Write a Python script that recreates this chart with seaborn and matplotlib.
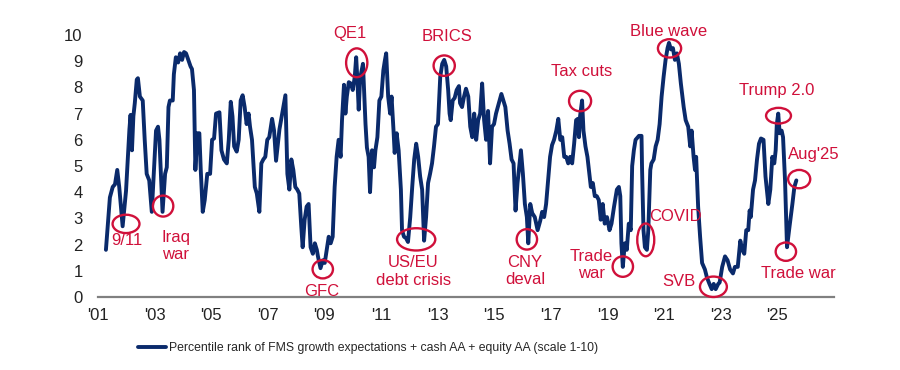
import numpy as np
import pandas as pd
import matplotlib
matplotlib.use('Agg')
import matplotlib.pyplot as plt
from matplotlib.patches import Ellipse
import seaborn as sns

# decimal year / score
years = [
    2001.28, 2001.42, 2001.52, 2001.60, 2001.68, 2001.75, 2001.87, 2001.99, 2002.11, 2002.15,
    2002.20, 2002.25, 2002.30, 2002.37, 2002.41, 2002.48, 2002.58, 2002.65, 2002.72, 2002.81,
    2002.90, 2002.99, 2003.05, 2003.12, 2003.17, 2003.23, 2003.28, 2003.37, 2003.43, 2003.49,
    2003.54, 2003.64, 2003.68, 2003.75, 2003.83, 2003.90, 2003.97, 2004.04, 2004.11, 2004.19,
    2004.27, 2004.32, 2004.39, 2004.44, 2004.51, 2004.58, 2004.63, 2004.70, 2004.77, 2004.86,
    2004.96, 2005.03, 2005.10, 2005.17, 2005.29, 2005.36, 2005.45, 2005.55, 2005.62, 2005.69,
    2005.75, 2005.81, 2005.90, 2005.97, 2006.04, 2006.11, 2006.18, 2006.25, 2006.32, 2006.37,
    2006.44, 2006.54, 2006.61, 2006.70, 2006.77, 2006.84, 2006.91, 2006.98, 2007.05, 2007.15,
    2007.22, 2007.29, 2007.41, 2007.53, 2007.62, 2007.69, 2007.76, 2007.83, 2007.90, 2007.97,
    2008.04, 2008.11, 2008.18, 2008.23, 2008.30, 2008.37, 2008.44, 2008.51, 2008.59, 2008.66,
    2008.73, 2008.77, 2008.86, 2008.94, 2009.01, 2009.08, 2009.15, 2009.22, 2009.29, 2009.36,
    2009.43, 2009.50, 2009.57, 2009.62, 2009.69, 2009.74, 2009.79, 2009.86, 2009.93, 2010.00,
    2010.07, 2010.12, 2010.16, 2010.21, 2010.26, 2010.36, 2010.45, 2010.50, 2010.56, 2010.61,
    2010.68, 2010.75, 2010.80, 2010.87, 2010.94, 2011.01, 2011.08, 2011.13, 2011.18, 2011.25,
    2011.32, 2011.37, 2011.44, 2011.48, 2011.55, 2011.62, 2011.70, 2011.74, 2011.81, 2011.88,
    2011.95, 2012.03, 2012.10, 2012.17, 2012.24, 2012.31, 2012.38, 2012.45, 2012.52, 2012.59,
    2012.66, 2012.73, 2012.80, 2012.87, 2012.94, 2013.01, 2013.09, 2013.16, 2013.23, 2013.30,
    2013.37, 2013.42, 2013.46, 2013.53, 2013.60, 2013.67, 2013.75, 2013.79, 2013.86, 2013.93,
    2014.00, 2014.08, 2014.15, 2014.22, 2014.29, 2014.36, 2014.43, 2014.50, 2014.57, 2014.64,
    2014.71, 2014.78, 2014.85, 2014.92, 2014.99, 2015.06, 2015.16, 2015.25, 2015.32, 2015.39,
    2015.47, 2015.54, 2015.61, 2015.68, 2015.75, 2015.82, 2015.89, 2015.94, 2016.01, 2016.08,
    2016.15, 2016.20, 2016.27, 2016.34, 2016.43, 2016.53, 2016.62, 2016.69, 2016.76, 2016.83,
    2016.90, 2016.97, 2017.04, 2017.11, 2017.19, 2017.26, 2017.33, 2017.40, 2017.47, 2017.54,
    2017.61, 2017.68, 2017.75, 2017.82, 2017.89, 2017.95, 2017.99, 2018.03, 2018.10, 2018.15,
    2018.22, 2018.29, 2018.36, 2018.41, 2018.48, 2018.55, 2018.62, 2018.69, 2018.76, 2018.83,
    2018.90, 2018.98, 2019.07, 2019.14, 2019.23, 2019.33, 2019.40, 2019.45, 2019.49, 2019.54,
    2019.61, 2019.68, 2019.75, 2019.82, 2019.87, 2019.93, 2019.99, 2020.11, 2020.20, 2020.22,
    2020.27, 2020.32, 2020.39, 2020.44, 2020.51, 2020.55, 2020.63, 2020.70, 2020.77, 2020.84,
    2020.91, 2020.98, 2021.05, 2021.12, 2021.17, 2021.24, 2021.31, 2021.38, 2021.45, 2021.52,
    2021.59, 2021.69, 2021.76, 2021.85, 2021.92, 2021.97, 2022.04, 2022.09, 2022.13, 2022.20,
    2022.27, 2022.34, 2022.44, 2022.51, 2022.60, 2022.68, 2022.75, 2022.82, 2022.91, 2022.96,
    2023.05, 2023.15, 2023.24, 2023.33, 2023.43, 2023.50, 2023.60, 2023.69, 2023.76, 2023.83,
    2023.90, 2023.97, 2024.02, 2024.06, 2024.14, 2024.21, 2024.28, 2024.35, 2024.42, 2024.51,
    2024.58, 2024.68, 2024.75, 2024.82, 2024.89, 2024.94, 2024.98, 2025.03, 2025.08, 2025.15,
    2025.20, 2025.27, 2025.34, 2025.43, 2025.53, 2025.60, 2025.67,
]
scores = [
    1.80, 3.80, 4.20, 4.30, 4.85, 4.20, 2.70, 4.05, 6.40, 6.95,
    5.60, 6.90, 7.40, 8.30, 8.35, 7.65, 7.50, 6.00, 4.70, 4.45,
    3.25, 5.10, 6.35, 6.50, 6.00, 4.45, 3.25, 4.70, 4.95, 7.25,
    7.50, 7.50, 8.50, 9.15, 8.95, 9.30, 9.05, 9.35, 9.30, 9.05,
    8.80, 8.70, 7.90, 4.85, 6.25, 6.25, 4.85, 3.25, 3.70, 4.70,
    4.70, 6.00, 6.05, 7.00, 7.05, 5.60, 5.25, 5.10, 6.00, 7.45,
    6.90, 5.75, 5.55, 6.00, 7.50, 7.70, 7.25, 6.60, 7.00, 6.50,
    6.00, 4.20, 3.95, 3.25, 5.10, 5.25, 5.35, 6.00, 6.10, 6.80,
    6.35, 5.20, 6.40, 7.15, 7.70, 4.70, 4.10, 5.25, 4.85, 4.20,
    4.10, 3.95, 2.70, 1.90, 2.95, 3.45, 3.55, 1.90, 1.65, 2.05,
    1.80, 1.55, 1.10, 1.40, 1.30, 1.80, 2.30, 2.05, 2.30, 4.20,
    5.35, 6.00, 5.35, 6.75, 8.10, 7.00, 7.65, 8.20, 8.15, 7.90,
    8.40, 9.15, 8.35, 7.15, 8.35, 8.90, 6.60, 5.70, 5.35, 4.00,
    5.60, 4.95, 5.60, 6.10, 7.50, 7.65, 8.65, 9.00, 9.30, 7.65,
    7.00, 7.65, 6.35, 5.50, 6.25, 5.60, 4.10, 2.55, 2.30, 2.25,
    2.10, 3.05, 4.20, 5.25, 5.85, 5.35, 4.60, 4.10, 2.15, 3.05,
    4.35, 4.70, 5.10, 5.75, 6.50, 6.60, 8.40, 8.90, 9.05, 8.80,
    7.90, 7.00, 6.75, 7.50, 7.60, 7.90, 8.05, 7.40, 7.25, 7.65,
    7.95, 7.65, 6.50, 6.10, 7.00, 6.00, 6.75, 7.00, 8.15, 6.75,
    6.00, 7.10, 5.10, 6.50, 6.60, 7.00, 7.40, 7.75, 7.50, 7.25,
    6.35, 5.85, 5.25, 5.10, 3.30, 4.35, 5.10, 5.60, 4.70, 3.55,
    3.05, 2.05, 3.55, 3.20, 3.05, 2.55, 2.90, 3.25, 3.05, 3.55,
    4.45, 5.35, 5.80, 6.00, 6.35, 6.80, 6.00, 6.10, 5.35, 5.35,
    5.10, 5.35, 5.10, 5.85, 6.75, 6.80, 6.10, 6.90, 7.50, 6.35,
    5.75, 5.35, 4.70, 4.20, 4.35, 3.85, 3.85, 3.70, 2.95, 3.55,
    2.80, 3.05, 2.55, 2.80, 3.45, 4.10, 4.20, 3.85, 2.05, 1.15,
    2.05, 1.80, 2.80, 2.55, 5.00, 5.60, 6.00, 6.15, 6.15, 4.85,
    2.55, 1.90, 1.80, 2.55, 4.85, 5.10, 5.25, 5.75, 6.00, 6.60,
    7.65, 8.40, 9.05, 9.50, 9.70, 9.45, 9.50, 9.05, 9.30, 8.90,
    8.15, 7.25, 6.75, 6.50, 5.75, 6.35, 5.35, 4.85, 5.35, 3.45,
    2.30, 1.30, 1.05, 0.75, 0.50, 0.30, 0.50, 0.30, 0.50, 0.55,
    1.15, 1.55, 1.40, 1.05, 0.90, 1.15, 1.15, 2.15, 1.80, 1.65,
    2.55, 2.55, 3.30, 3.05, 4.10, 4.45, 5.25, 5.85, 6.05, 6.00,
    4.60, 3.55, 4.10, 5.35, 5.10, 5.60, 6.60, 7.00, 6.25, 6.35,
    6.10, 4.45, 1.90, 2.70, 3.55, 4.20, 4.45,
]

tick_years = list(range(2001, 2026, 2))
tick_labels = ["'%02d" % (y % 100) for y in tick_years]

series_name = 'Percentile rank of FMS growth expectations + cash AA + equity AA (scale 1-10)'

# event labels: text, label position, circle centre, circle size (years, score units)
events = [
    ('9/11', 2002.02, 2.15, 2001.99, 2.79, 0.95, 0.70),
    ('Iraq\nwar', 2003.75, 1.95, 2003.30, 3.47, 0.72, 0.80),
    ('GFC', 2008.90, 0.20, 2008.94, 1.06, 0.72, 0.70),
    ('QE1', 2009.90, 10.05, 2010.14, 8.94, 0.75, 1.10),
    ('US/EU\ndebt crisis', 2012.14, 0.98, 2012.24, 2.20, 1.35, 0.85),
    ('BRICS', 2013.32, 9.95, 2013.23, 8.83, 0.75, 0.78),
    ('CNY\ndeval', 2016.09, 1.00, 2016.15, 2.20, 0.72, 0.78),
    ('Tax cuts', 2018.10, 8.60, 2018.03, 7.48, 0.78, 0.78),
    ('Trade\nwar', 2018.42, 1.22, 2019.54, 1.16, 0.72, 0.78),
    ('COVID', 2021.39, 3.07, 2020.35, 2.18, 0.60, 1.25),
    ('Blue wave', 2021.15, 10.15, 2021.19, 9.49, 0.82, 0.70),
    ('SVB', 2021.51, 0.58, 2022.74, 0.39, 0.95, 0.78),
    ('Trump 2.0', 2024.98, 7.90, 2025.04, 6.92, 0.88, 0.60),
    ("Aug'25", 2026.28, 5.45, 2025.77, 4.50, 0.78, 0.70),
    ('Trade war', 2025.74, 0.90, 2025.30, 1.73, 0.72, 0.70),
]

df = pd.DataFrame({'year': years, 'score': scores})

sns.set_theme(style='white')
plt.rcParams['font.family'] = ['Liberation Sans', 'DejaVu Sans']

navy = '#0A2A6B'
red = '#D0103A'

fig = plt.figure(figsize=(9, 3.7), dpi=100)
ax = fig.add_axes([98 / 900, 1 - 297 / 370, (834 - 98) / 900, (297 - 35) / 370])

sns.lineplot(data=df, x='year', y='score', ax=ax, color=navy, linewidth=2.8,
             label=series_name, legend=False)

for text, tx, ty, cx, cy, w, h in events:
    ax.add_patch(Ellipse((cx, cy), w, h, fill=False, edgecolor=red, linewidth=1.7,
                         clip_on=False, zorder=5))
    ax.text(tx, ty, text, color=red, fontsize=12, ha='center', va='center',
            linespacing=1.2, clip_on=False)

ax.set_xlim(2001.0, 2027.0)
ax.set_ylim(0, 10)
ax.set_xticks(tick_years)
ax.set_xticklabels(tick_labels)
ax.set_yticks(range(0, 11))
ax.tick_params(axis='both', labelsize=12, length=0, colors='#222222')
ax.tick_params(axis='x', pad=8)
ax.tick_params(axis='y', pad=11)
ax.set_xlabel('')
ax.set_ylabel('')
for side in ['top', 'right', 'left']:
    ax.spines[side].set_visible(False)
ax.spines['bottom'].set_color('#808080')
ax.spines['bottom'].set_linewidth(1.6)
ax.grid(False)

handles, labels = ax.get_legend_handles_labels()
fig.legend(handles, labels, loc='center', bbox_to_anchor=(368 / 900, 1 - 348 / 370),
           frameon=False, fontsize=8.8, handlelength=2.3, handletextpad=0.3)

fig.savefig('out.png', dpi=100)
